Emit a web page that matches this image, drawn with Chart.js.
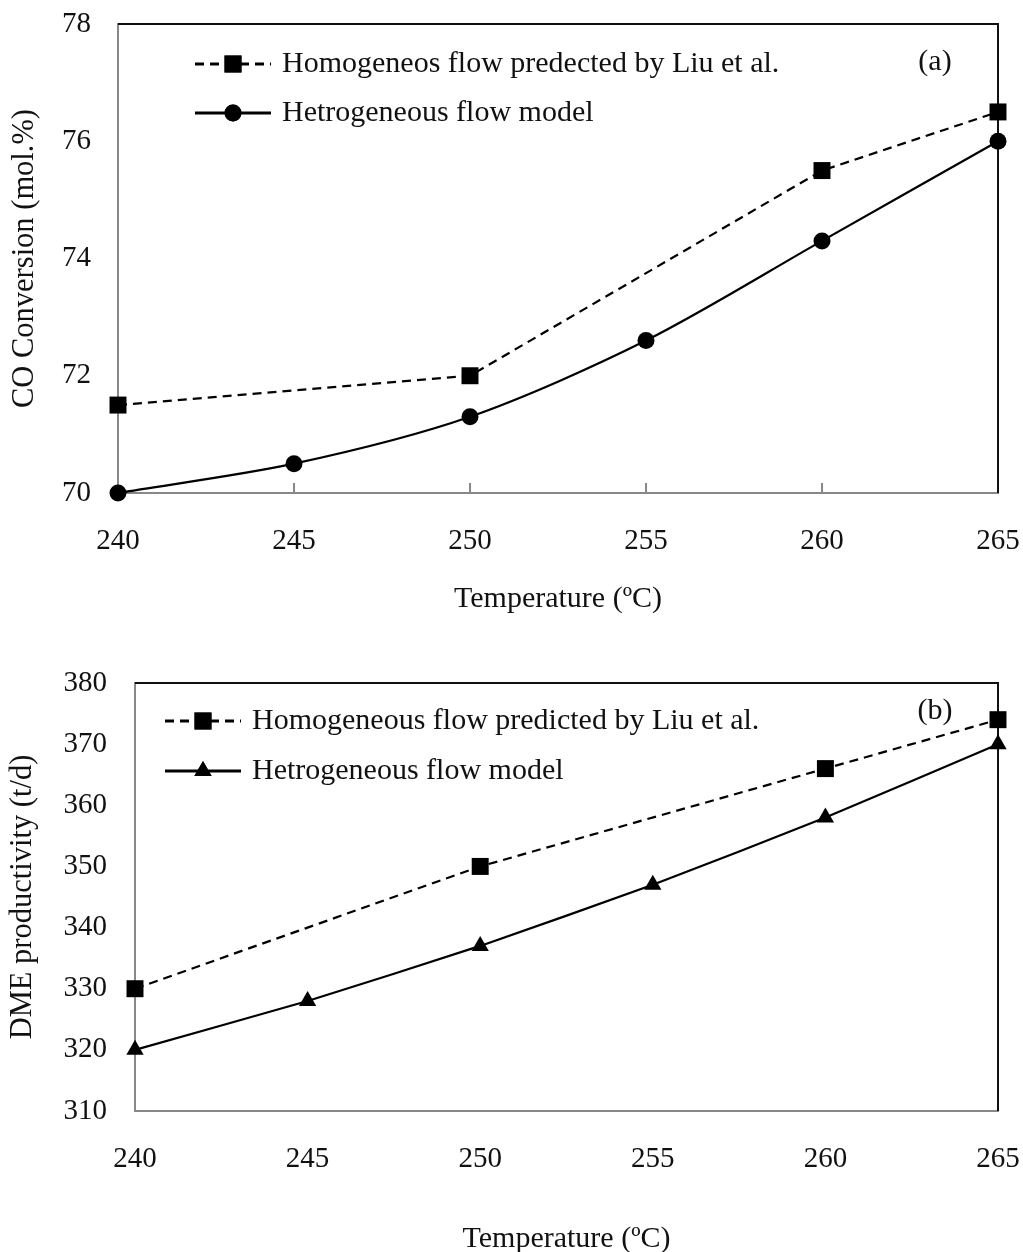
<!DOCTYPE html>
<html>
<head>
<meta charset="utf-8">
<script src="https://cdn.jsdelivr.net/npm/chart.js@4.4.0/dist/chart.umd.min.js"></script>
<style>
  body { margin: 0; background: #fff; }
  .wrap { position: absolute; left: 0; width: 1023px; }
  #wrapA { top: 0; height: 625px; }
  #wrapB { top: 625px; height: 627px; }
</style>
</head>
<body>
<div class="wrap" id="wrapA"><canvas id="graficoA"></canvas></div>
<div class="wrap" id="wrapB"><canvas id="graficoB"></canvas></div>
<script>
const temperaturas = [240, 245, 250, 255, 260, 265];
const conversaoHomog = [71.5, null, 72.0, null, 75.5, 76.5];
const conversaoHetero = [70.0, 70.5, 71.3, 72.6, 74.3, 76.0];
const produtividadeHomog = [330, null, 350, null, 366, 374];
const produtividadeHetero = [320, 328, 337, 347, 358, 370];
const ticksX = [240, 245, 250, 255, 260, 265];
const ticksConversao = [70, 72, 74, 76, 78];
const ticksProdutividade = [310, 320, 330, 340, 350, 360, 370, 380];

const serif = '"Liberation Serif", "Times New Roman", serif';

function pontos(valores) {
  return temperaturas.map((t, i) => ({ x: t, y: valores[i] }));
}

// moldura preta em cima e a direita, legenda e ticks internos
const extras = {
  id: "extras",
  beforeDatasetsDraw(chart, args, opts) {
    const { ctx, chartArea: a, scales } = chart;
    ctx.save();
    if (opts.innerTicks) {
      ctx.strokeStyle = "#888";
      ctx.lineWidth = 2;
      ticksX.forEach((v) => {
        const px = scales.x.getPixelForValue(v);
        ctx.beginPath();
        ctx.moveTo(px, a.bottom);
        ctx.lineTo(px, a.bottom - 10);
        ctx.stroke();
      });
    }
    ctx.strokeStyle = "#111";
    ctx.lineWidth = 2;
    ctx.beginPath();
    ctx.moveTo(a.left, a.top);
    ctx.lineTo(a.right, a.top);
    ctx.lineTo(a.right, a.bottom);
    ctx.stroke();
    ctx.restore();
  },
  afterDraw(chart, args, opts) {
    const { ctx } = chart;
    ctx.save();
    ctx.font = "30px " + serif;
    ctx.fillStyle = "#111";
    ctx.textBaseline = "middle";
    chart.data.datasets.forEach((ds, i) => {
      const y = opts.y[i];
      ctx.strokeStyle = ds.borderColor;
      ctx.lineWidth = 3;
      ctx.setLineDash(ds.borderDash || []);
      ctx.beginPath();
      ctx.moveTo(opts.x0, y);
      ctx.lineTo(opts.x1, y);
      ctx.stroke();
      ctx.setLineDash([]);
      ctx.fillStyle = ds.pointBackgroundColor;
      Chart.helpers.drawPoint(ctx, {
        pointStyle: ds.pointStyle,
        radius: ds.pointRadius,
        borderWidth: 0,
        rotation: 0,
      }, (opts.x0 + opts.x1) / 2, y);
      ctx.fill();
      ctx.fillStyle = "#111";
      ctx.fillText(ds.label, opts.textX, y);
    });
    ctx.textAlign = "center";
    ctx.fillText(opts.tag, opts.tagX, opts.tagY);
    ctx.restore();
  },
};

function criarGrafico(id, cfg) {
  return new Chart(document.getElementById(id), {
    type: "line",
    data: {
      datasets: [
        {
          label: cfg.labelHomog,
          data: pontos(cfg.homog),
          borderColor: "#000",
          borderWidth: 2.2,
          borderDash: [9, 6],
          pointStyle: "rect",
          pointRadius: 12,
          pointBackgroundColor: "#000",
          pointBorderWidth: 0,
          spanGaps: true,
          tension: 0,
          clip: false,
        },
        {
          label: "Hetrogeneous flow model",
          data: pontos(cfg.hetero),
          borderColor: "#000",
          borderWidth: 2.2,
          pointStyle: cfg.markerHetero,
          pointRadius: cfg.markerHetero === "circle" ? 8.5 : 10,
          pointBackgroundColor: "#000",
          pointBorderWidth: 0,
          tension: cfg.tension,
          clip: false,
        },
      ],
    },
    options: {
      responsive: true,
      maintainAspectRatio: false,
      animation: false,
      layout: { padding: { top: cfg.padTop, right: 25, left: 0, bottom: 0 } },
      plugins: {
        legend: { display: false },
        tooltip: { enabled: false },
        extras: cfg.legenda,
      },
      scales: {
        x: {
          type: "linear",
          min: 240,
          max: 265,
          afterBuildTicks: (s) => { s.ticks = ticksX.map((v) => ({ value: v })); },
          afterFit: (s) => {
            s.height = cfg.xHeight;
            s.paddingLeft = 0;
            s.paddingRight = 0;
          },
          grid: { display: false, drawTicks: false },
          border: { display: true, color: "#888", width: 2 },
          ticks: { color: "#111", font: { family: serif, size: 29 }, padding: cfg.xPad, maxRotation: 0 },
          title: {
            display: true,
            text: "Temperature (ºC)",
            color: "#111",
            font: { family: serif, size: 30, lineHeight: 1 },
            padding: { top: 0, bottom: cfg.xTitlePad },
          },
        },
        y: {
          min: cfg.ticksY[0],
          max: cfg.ticksY[cfg.ticksY.length - 1],
          afterBuildTicks: (s) => { s.ticks = cfg.ticksY.map((v) => ({ value: v })); },
          afterFit: (s) => {
            s.width = cfg.yWidth;
            s.paddingTop = 0;
            s.paddingBottom = 0;
          },
          grid: { display: false, drawTicks: false },
          border: { display: true, color: "#888", width: 2 },
          ticks: { color: "#111", font: { family: serif, size: 29 }, padding: cfg.yPad },
          title: {
            display: true,
            text: cfg.yTitle,
            color: "#111",
            font: { family: serif, size: 30.5, lineHeight: 1 },
            padding: { top: cfg.yTitlePad, bottom: 0 },
          },
        },
      },
    },
    plugins: [extras],
  });
}

criarGrafico("graficoA", {
  labelHomog: "Homogeneos flow predected by Liu et al.",
  homog: conversaoHomog,
  hetero: conversaoHetero,
  markerHetero: "circle",
  tension: 0.3,
  ticksY: ticksConversao,
  yTitle: "CO Conversion (mol.%)",
  padTop: 24,
  xHeight: 132,
  xPad: 31,
  xTitlePad: 11,
  yWidth: 118,
  yPad: 27,
  yTitlePad: 10,
  legenda: { innerTicks: true, x0: 195, x1: 271, textX: 282, y: [64, 113], tag: "(a)", tagX: 935, tagY: 62 },
});

criarGrafico("graficoB", {
  labelHomog: "Homogeneous flow predicted by Liu et al.",
  homog: produtividadeHomog,
  hetero: produtividadeHetero,
  markerHetero: "triangle",
  tension: 0.15,
  ticksY: ticksProdutividade,
  yTitle: "DME productivity (t/d)",
  padTop: 58,
  xHeight: 141,
  xPad: 31,
  xTitlePad: -2,
  yWidth: 135,
  yPad: 28,
  yTitlePad: 8,
  legenda: { innerTicks: false, x0: 165, x1: 241, textX: 252, y: [96, 146], tag: "(b)", tagX: 935, tagY: 86 },
});
</script>
</body>
</html>
